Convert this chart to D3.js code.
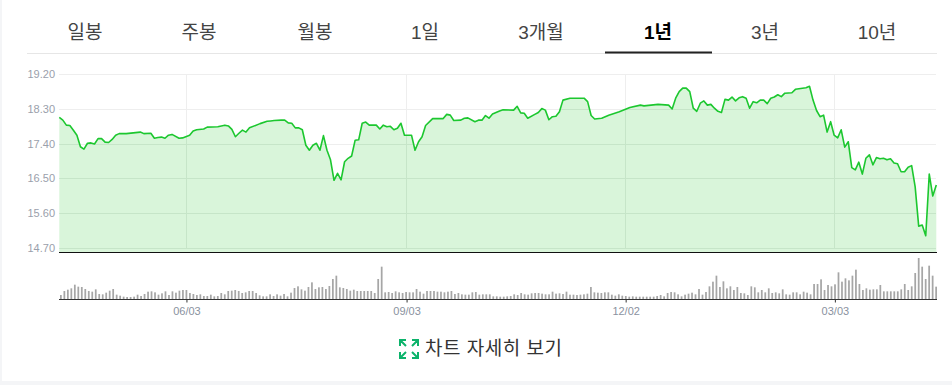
<!DOCTYPE html>
<html lang="ko"><head><meta charset="utf-8">
<script src="https://cdn.jsdelivr.net/npm/d3@7"></script>
<style>html,body{margin:0;padding:0;background:#fff;overflow:hidden}svg{display:block}
text{font-family:"Liberation Sans","Noto Sans CJK KR",sans-serif}</style></head><body>
<svg id="c" width="952" height="385"></svg>
<script>
const tabs=["일봉","주봉","월봉","1일","3개월","1년","3년","10년"];
const activeTab="1년";
const priceTicks=[19.20,18.30,17.40,16.50,15.60,14.70];
const dateLabels=["06/03","09/03","12/02","03/03"];
const dateSessions=[36.1,98.6,160.8,220.2];
const buttonLabel="차트 자세히 보기";
const sessions=[0,1,2,3,4,5,6,7,8,9,10,11,12,13,14,15,16,17,19,21,23,24,26,27,28,29,30,31,32,34,35,37,38,39,41,42,45,47,48,49,50,51,52,53,54,57,59,60,61,63,64,65,66,67,68,69,70,71,72,73,74,75,76,77,78,79,80,81,82,83,84,85,86,87,88,90,91,92,93,94,95,96,97,98,100,101,102,103,104,106,109,110,111,112,114,115,116,118,119,120,121,122,123,125,126,129,130,131,132,133,135,136,137,138,139,140,141,142,143,145,149,150,151,152,154,156,159,162,165,166,170,173,174,175,176,177,178,179,180,181,182,183,184,185,186,187,188,189,190,191,192,193,194,195,196,197,198,199,200,201,202,203,204,205,206,208,209,211,212,213,214,215,216,217,218,219,220,221,222,223,224,225,226,227,228,229,230,231,232,233,234,235,236,237,238,239,240,241,242,243,244,245,246,247,248,249];
const closes=[18.08,18.01,17.88,17.87,17.75,17.62,17.32,17.26,17.41,17.42,17.39,17.53,17.53,17.44,17.43,17.51,17.62,17.66,17.66,17.68,17.70,17.66,17.67,17.54,17.56,17.57,17.54,17.62,17.64,17.54,17.55,17.62,17.73,17.76,17.78,17.83,17.84,17.88,17.86,17.77,17.58,17.67,17.75,17.70,17.81,17.92,17.98,17.99,18.00,18.01,18.01,17.94,17.93,17.81,17.81,17.76,17.36,17.23,17.36,17.41,17.23,17.61,17.23,16.98,16.45,16.63,16.46,16.93,17.02,17.08,17.49,17.50,17.93,17.96,17.88,17.88,17.78,17.88,17.84,17.85,17.76,17.80,17.93,17.62,17.62,17.23,17.45,17.58,17.87,18.05,18.05,18.16,18.14,18.00,18.01,18.06,18.07,17.97,18.01,18.01,18.13,18.06,18.17,18.25,18.28,18.27,18.37,18.20,18.19,18.06,18.16,18.21,18.31,18.27,18.02,18.10,18.11,18.23,18.53,18.58,18.58,18.49,18.13,18.04,18.06,18.14,18.23,18.34,18.40,18.38,18.42,18.40,18.30,18.58,18.75,18.84,18.84,18.75,18.32,18.24,18.45,18.51,18.40,18.42,18.32,18.24,18.21,18.55,18.53,18.61,18.51,18.59,18.62,18.58,18.32,18.49,18.46,18.53,18.53,18.44,18.58,18.61,18.67,18.62,18.71,18.72,18.81,18.84,18.85,18.89,18.53,18.26,18.10,18.14,17.70,17.97,17.62,17.55,17.76,17.31,17.45,16.78,16.72,16.92,16.61,17.02,17.11,16.85,17.04,17.01,17.02,16.98,17.01,16.90,16.88,16.67,16.67,16.79,16.83,16.28,15.26,15.29,15.01,16.61,16.04,16.33];
const volumes=[12,24,28,32,43,37,36,30,24,22,29,15,14,19,25,30,13,10,7,6,6,7,13,9,15,22,23,20,13,17,23,12,23,19,25,27,27,18,15,12,14,9,9,13,8,9,18,14,24,25,27,24,18,20,24,24,18,11,8,8,14,9,14,10,15,8,19,33,38,29,25,36,50,30,35,
36,30,39,60,70,35,33,30,25,28,24,24,24,24,24,18,60,97,20,21,18,23,20,18,21,20,20,30,22,16,24,24,24,22,22,20,22,24,15,18,14,13,13,20,21,13,14,14,14,8,8,7,7,8,9,14,12,18,14,13,17,18,18,16,14,14,22,16,17,15,22,13,13,12,13,14,16,36,20,19,18,20,20,13,10,14,10,9,7,
8,7,7,7,7,7,7,9,12,8,18,21,20,14,8,13,16,19,14,30,13,21,38,52,70,36,53,32,38,27,36,18,17,12,38,35,20,27,20,32,18,20,17,29,14,13,20,20,14,22,19,14,45,45,59,27,42,38,44,80,52,62,56,70,88,45,27,32,28,29,29,42,23,23,23,23,23,29,45,27,38,78,123,97,60,100,70,37];

const svg=d3.select("#c");
// page chrome
svg.append("rect").attr("x",0).attr("y",0).attr("width",2).attr("height",385).attr("fill","#f4f5f7");
svg.append("rect").attr("x",0).attr("y",381).attr("width",952).attr("height",4).attr("fill","#f4f5f7");

// tabs
const tabX=d3.scaleOrdinal().domain(tabs).range([85,199,315,425,541,658,765,877]);
svg.append("line").attr("x1",27).attr("x2",937).attr("y1",53.5).attr("y2",53.5).attr("stroke","#e6e6e6");
svg.append("line").attr("x1",605).attr("x2",712).attr("y1",52.5).attr("y2",52.5).attr("stroke","#222").attr("stroke-width",2);
svg.selectAll("text.tab").data(tabs).join("text").attr("class","tab")
  .attr("x",d=>tabX(d)).attr("y",39).attr("text-anchor","middle").attr("font-size",19)
  .attr("font-weight",d=>d===activeTab?700:400).attr("fill",d=>d===activeTab?"#000":"#444").text(d=>d);

// scales
const x=d3.scaleLinear().domain([0,249]).range([59.3,936.3]);
const y=d3.scaleLinear().domain([14.70,19.20]).range([247.7,74.3]);
const yBase=252;
const xVol=d3.scaleBand().domain(d3.range(volumes.length)).range([60,937]).paddingInner(0.5);
const yVol=d3.scaleLinear().domain([0,123]).range([299,258]);

// grid
const pts=sessions.map((s,i)=>[s,closes[i]]);
const area=d3.area().x(d=>x(d[0])).y0(yBase).y1(d=>y(d[1]));
svg.append("clipPath").attr("id","under").append("path").datum(pts).attr("d",area);
const yAxis=d3.axisLeft(y).tickValues(priceTicks).tickFormat(d3.format(".2f")).tickSize(0).tickPadding(4);
const yg=svg.append("g").attr("transform","translate(59,0)").call(yAxis);
yg.select(".domain").remove();
yg.selectAll("text").attr("font-size",11).attr("fill","#9aa0ab").attr("font-family",'"Liberation Sans",sans-serif');
function grid(parent,color,tag){
  parent.selectAll("line.gy").data(priceTicks).join("line").attr("class","gy")
    .attr("x1",59).attr("x2",936).attr("y1",d=>Math.round(y(d))+.5).attr("y2",d=>Math.round(y(d))+.5).attr("stroke",color);
  parent.selectAll("line.gx").data(dateSessions).join("line").attr("class","gx")
    .attr("x1",d=>Math.floor(x(d))+.5).attr("x2",d=>Math.floor(x(d))+.5).attr("y1",74).attr("y2",248).attr("stroke",color);
}
grid(svg.append("g"),"#eeeeee");

// area + line
svg.append("path").datum(pts).attr("fill","#d9f5da").attr("d",area);
grid(svg.append("g").attr("clip-path","url(#under)"),"#c6e5c8");
svg.append("path").datum(pts).attr("fill","none").attr("stroke","#1cc72f").attr("stroke-width",1.6)
  .attr("stroke-linejoin","round").attr("d",d3.line().x(d=>x(d[0])).y(d=>y(d[1])));
svg.append("line").attr("x1",59).attr("x2",937).attr("y1",252.5).attr("y2",252.5).attr("stroke","#111").attr("stroke-width",1.2);

// volume
svg.selectAll("rect.v").data(volumes).join("rect").attr("class","v")
  .attr("x",(d,i)=>xVol(i)).attr("width",xVol.bandwidth()).attr("y",d=>yVol(d)).attr("height",d=>yVol(0)-yVol(d)).attr("fill","#a6a6a6");
const xAxis=d3.axisBottom(x).tickValues(dateSessions).tickFormat((d,i)=>dateLabels[i]).tickSize(3).tickPadding(5);
const xg=svg.append("g").attr("transform","translate(0,299.5)").call(xAxis);
xg.select(".domain").remove();
xg.selectAll("line").attr("stroke","#333");
xg.selectAll("text").attr("font-size",11).attr("fill","#8a92a0").attr("font-family",'"Liberation Sans",sans-serif');
svg.append("line").attr("x1",59).attr("x2",937).attr("y1",299.5).attr("y2",299.5).attr("stroke","#333");

// button
const ic=svg.append("g").attr("transform","translate(399,339)").attr("fill","none").attr("stroke","#0cb36b").attr("stroke-width",2);
ic.append("path").attr("d","M1 7V1H7M1 1L7 7M13 1H19V7M19 1L13 7M1 13V19H7M1 19L7 13M13 19H19V13M19 19L13 13");
svg.append("text").attr("x",425).attr("y",354.5).attr("font-size",19).attr("letter-spacing",0.5).attr("fill","#333").text(buttonLabel);
</script></body></html>
